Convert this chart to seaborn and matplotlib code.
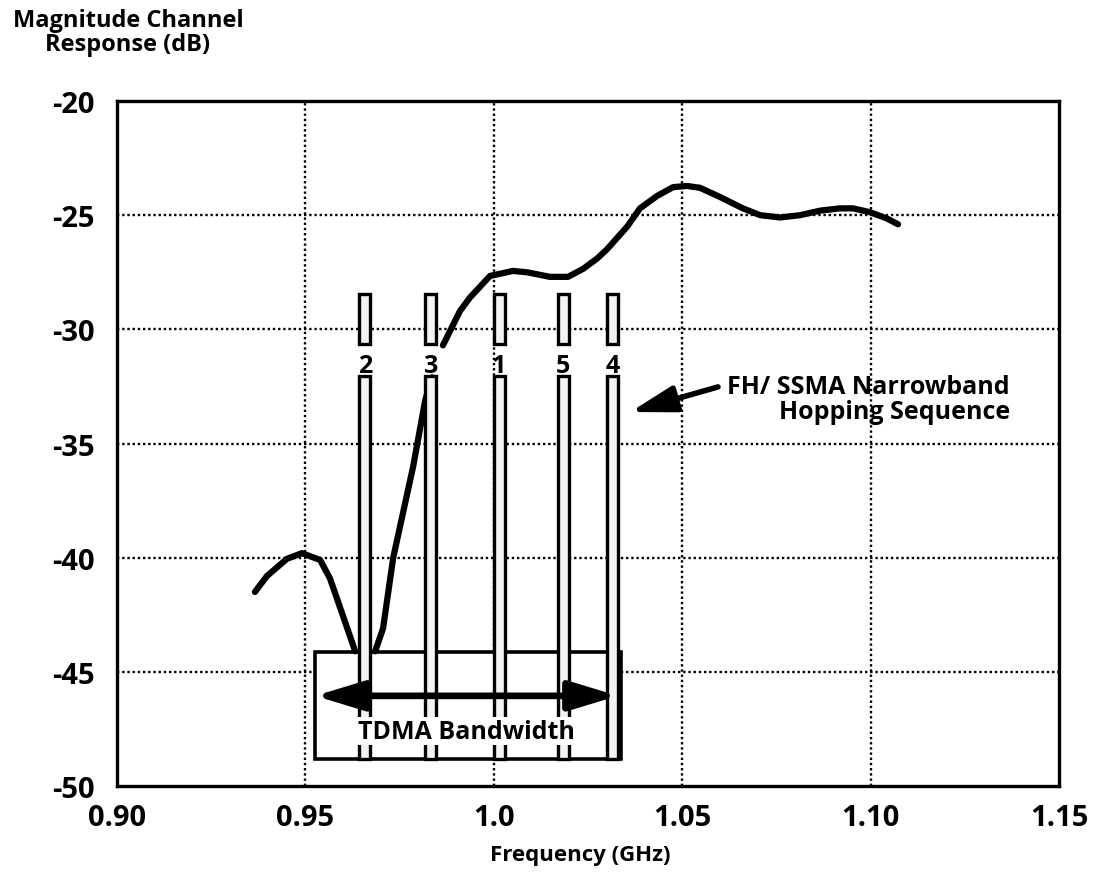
import numpy as np
import pandas as pd
import matplotlib
matplotlib.use("Agg")
import matplotlib.pyplot as plt
import seaborn as sns
from matplotlib.ticker import MultipleLocator, FixedLocator

# ---- data ----
seg1_f = [0.9366, 0.9398, 0.9451, 0.9491, 0.9539, 0.9565, 0.9605, 0.9632]
seg1_db = [-41.5, -40.8, -40.05, -39.8, -40.1, -40.9, -42.8, -44.1]
seg2_f = [0.9685, 0.9706, 0.9733, 0.9786, 0.9818, 0.9836]
seg2_db = [-44.1, -43.1, -40.0, -36.0, -33.1, -32.1]
seg3_f = [0.9865, 0.9910, 0.9937, 0.9990, 1.0051, 1.0088, 1.0149, 1.0197, 1.0237,
          1.0274, 1.0300, 1.0354, 1.0388, 1.0433, 1.0476, 1.0513, 1.0547, 1.0600,
          1.0661, 1.0707, 1.0760, 1.0813, 1.0866, 1.0919, 1.0953, 1.0999, 1.1044, 1.1073]
seg3_db = [-30.7, -29.2, -28.6, -27.66, -27.44, -27.5, -27.7, -27.7, -27.35,
           -26.9, -26.5, -25.5, -24.7, -24.16, -23.77, -23.72, -23.8, -24.2,
           -24.7, -25.0, -25.1, -25.0, -24.8, -24.7, -24.7, -24.87, -25.15, -25.4]

hop_labels = ["2", "3", "1", "5", "4"]
hop_freqs = [0.9658, 0.9833, 1.0014, 1.0184, 1.0315]
hop_top = -28.45
hop_gap_top = -30.64
hop_gap_bottom = -32.04
hop_label_db = -31.6

tdma_left, tdma_right = 0.9526, 1.0337
tdma_top, tdma_bottom = -44.12, -48.8
tdma_arrow_db = -46.05

fh_tip = (1.0362, -33.62)
fh_tail = (1.0595, -32.52)

x_ticks = [0.90, 0.95, 1.00, 1.05, 1.10, 1.15]
x_ticklabels = ["0.90", "0.95", "1.0", "1.05", "1.10", "1.15"]
y_ticks = [-20, -25, -30, -35, -40, -45, -50]
y_ticklabels = ["-20", "-25", "-30", "-35", "-40", "-45", "-50"]

# ---- style ----
sns.set_theme(style="white")
plt.rcParams['font.family'] = ['Open Sans', 'DejaVu Sans']
plt.rcParams['font.weight'] = 'bold'
plt.rcParams['text.color'] = 'black'
plt.rcParams['xtick.color'] = 'black'
plt.rcParams['ytick.color'] = 'black'

fig = plt.figure(figsize=(11, 8.78), dpi=100)
ax = fig.add_axes([0.1064, 0.1036, 0.8563, 0.7802])

# grid (dotted), only interior lines
for xv in x_ticks[1:-1]:
    ax.axvline(xv, color='black', lw=1.7, ls=(0, (1, 1.2)), zorder=1)
for yv in y_ticks[1:-1]:
    ax.axhline(yv, color='black', lw=1.7, ls=(0, (1, 1.2)), zorder=1)

# curve
for f, d in [(seg1_f, seg1_db), (seg2_f, seg2_db), (seg3_f, seg3_db)]:
    df = pd.DataFrame({"f": f, "db": d})
    sns.lineplot(data=df, x="f", y="db", sort=False, color='black', lw=4.5,
                 ax=ax, zorder=3, solid_capstyle='round', solid_joinstyle='round')

# TDMA box
ax.add_patch(plt.Rectangle((tdma_left, tdma_bottom), tdma_right - tdma_left,
                           tdma_top - tdma_bottom, facecolor='white',
                           edgecolor='black', lw=2.6, zorder=2))

# hopping bars
bw = 0.0029
ax.bar(hop_freqs, [hop_top - hop_gap_top] * 5, bottom=hop_gap_top, width=bw,
       facecolor='#f3f3f3', edgecolor='black', lw=2.4, zorder=4)
ax.bar(hop_freqs, [hop_gap_bottom - tdma_bottom] * 5, bottom=tdma_bottom, width=bw,
       facecolor='#f3f3f3', edgecolor='black', lw=2.4, zorder=4)
for f, lab in zip(hop_freqs, hop_labels):
    ax.text(f, hop_label_db, lab, ha='center', va='center', fontsize=18,
            fontweight='bold', color='black', zorder=6)

# TDMA arrow and label
ax.annotate("", xy=(tdma_left, tdma_arrow_db), xytext=(tdma_right - 0.0008, tdma_arrow_db),
            arrowprops=dict(arrowstyle='<|-|>,head_length=1.05,head_width=0.32',
                            color='black', lw=4.8, shrinkA=0, shrinkB=0,
                            mutation_scale=28), zorder=5)
ax.text((tdma_left + tdma_right) / 2 - 0.0005, -47.6, "TDMA Bandwidth", ha='center',
        va='center', fontsize=18, fontweight='bold', color='black', zorder=7,
        bbox=dict(facecolor='white', edgecolor='none', pad=1.0))

# FH annotation
ax.annotate("", xy=fh_tip, xytext=fh_tail,
            arrowprops=dict(arrowstyle='-|>,head_length=1.3,head_width=0.38',
                            color='black', lw=4.0, shrinkA=0, shrinkB=0,
                            mutation_scale=21), zorder=7)
ax.text(1.1370, -33.05, "FH/ SSMA Narrowband\nHopping Sequence", ha='right',
        va='center', multialignment='right', fontsize=18, fontweight='bold',
        color='black', linespacing=1.0, zorder=7)

# axes
ax.set_xlim(0.90, 1.15)
ax.set_ylim(-50, -20)
ax.xaxis.set_major_locator(FixedLocator(x_ticks))
ax.set_xticklabels(x_ticklabels)
ax.yaxis.set_major_locator(FixedLocator(y_ticks))
ax.set_yticklabels(y_ticklabels)
ax.xaxis.set_minor_locator(MultipleLocator(0.0125))
ax.yaxis.set_minor_locator(MultipleLocator(1))
ax.tick_params(axis='both', which='both', direction='in', top=False, right=False,
               color='black', labelcolor='black', width=2.2)
ax.tick_params(axis='both', which='major', length=13)
ax.tick_params(axis='both', which='minor', length=8)
ax.tick_params(axis='x', which='major', labelsize=21, pad=12)
ax.tick_params(axis='y', which='major', labelsize=21, pad=16)
for lab in ax.get_xticklabels() + ax.get_yticklabels():
    lab.set_fontweight('bold')
for s in ax.spines.values():
    s.set_color('black')
    s.set_linewidth(2.4)
ax.set_xlabel("")
ax.set_ylabel("")
ax.grid(False)

fig.text(580 / 1100, 1 - 856 / 878, "Frequency (GHz)", ha='center', va='center',
         fontsize=16, fontweight='bold', color='black')
fig.text(128 / 1100, 1 - 33 / 878, "Magnitude Channel\nResponse (dB)", ha='center',
         va='center', fontsize=17, fontweight='bold', color='black', linespacing=1.0)

fig.savefig("out.png", dpi=100)
